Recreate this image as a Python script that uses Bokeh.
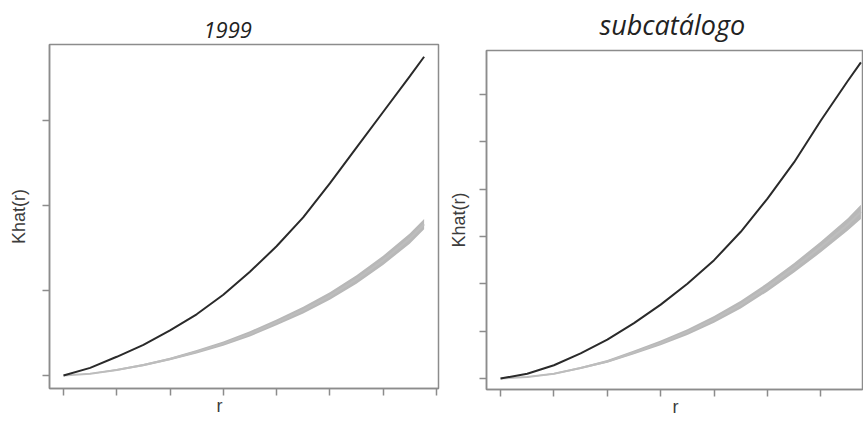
from bokeh.plotting import figure
from bokeh.layouts import row
from bokeh.models import FixedTicker, Range1d, CustomJSTickFormatter, Title
from bokeh.embed import file_html
from bokeh.resources import INLINE

# ---- data ----
titles = ["1999", "subcatálogo"]
x_label = "r"
y_label = "Khat(r)"

r_1999 = [0, 0.5, 1, 1.5, 2, 2.5, 3, 3.5, 4, 4.5, 5, 5.5, 6, 6.5, 6.77]
k_1999 = [0, 0.09, 0.22, 0.36, 0.53, 0.72, 0.95, 1.22, 1.52, 1.86, 2.26, 2.68, 3.1, 3.52, 3.75]
lo_1999 = [0, 0.015, 0.055, 0.11, 0.18, 0.26, 0.35, 0.46, 0.59, 0.73, 0.89, 1.08, 1.3, 1.55, 1.72]
hi_1999 = [0, 0.025, 0.075, 0.135, 0.21, 0.3, 0.4, 0.52, 0.66, 0.81, 0.98, 1.18, 1.41, 1.67, 1.84]

r_sub = [0, 0.5, 1, 1.5, 2, 2.5, 3, 3.5, 4, 4.5, 5, 5.5, 6, 6.5, 6.75]
k_sub = [0, 0.1, 0.28, 0.53, 0.82, 1.17, 1.56, 2.0, 2.5, 3.1, 3.8, 4.57, 5.45, 6.28, 6.68]
lo_sub = [0, 0.02, 0.085, 0.2, 0.33, 0.51, 0.7, 0.92, 1.18, 1.48, 1.84, 2.24, 2.665, 3.12, 3.37]
hi_sub = [0, 0.04, 0.115, 0.24, 0.39, 0.59, 0.8, 1.04, 1.32, 1.64, 2.02, 2.44, 2.895, 3.38, 3.67]

x_ticks = [0, 1, 2, 3, 4, 5, 6, 7]
y_ticks_1999 = [0, 1, 2, 3]
y_ticks_sub = [0, 1, 2, 3, 4, 5, 6]

FRAME = "#8c8c8c"
TEXT = "#3c3c3c"


def panel(title, r, k, lo, hi, yticks, width, xr, yr, borders,
          title_offset, title_size, title_standoff, ylab_standoff, xlab_offset):
    p = figure(width=width, height=426, output_backend="svg", toolbar_location=None,
               x_range=Range1d(*xr), y_range=Range1d(*yr),
               min_border_left=borders[0], min_border_right=borders[1],
               min_border_top=borders[2], min_border_bottom=borders[3])
    p.frame_align = False
    p.title.text = title
    p.title.align = "left"
    p.title.vertical_align = "top"
    p.title.offset = title_offset
    p.title.standoff = title_standoff
    p.title.text_font = "Open Sans"
    p.title.text_font_style = "italic"
    p.title.text_font_size = title_size
    p.title.text_color = "#222222"
    p.grid.visible = False
    p.outline_line_color = FRAME
    p.outline_line_width = 1.5
    p.background_fill_color = "white"
    p.border_fill_color = "white"

    for ax, ticks in ((p.xaxis[0], x_ticks), (p.yaxis[0], yticks)):
        ax.ticker = FixedTicker(ticks=ticks)
        ax.formatter = CustomJSTickFormatter(code="return ''")
        ax.minor_tick_line_color = None
        ax.major_tick_in = 0
        ax.major_tick_out = 7
        ax.major_tick_line_color = FRAME
        ax.major_tick_line_width = 1.5
        ax.axis_line_color = FRAME
        ax.axis_line_width = 1.5
        ax.major_label_standoff = 0
        ax.axis_label_text_font = "Liberation Sans"
        ax.axis_label_text_font_style = "normal"
        ax.axis_label_text_font_size = "18px"
        ax.axis_label_text_color = TEXT
    p.yaxis[0].axis_label = y_label
    p.yaxis[0].axis_label_standoff = ylab_standoff

    # x label as a bottom title so it can sit off-centre like the reference
    p.add_layout(Title(text=x_label, align="left", vertical_align="top", offset=xlab_offset,
                       standoff=0, text_font="Liberation Sans", text_font_style="normal",
                       text_font_size="18px", text_color=TEXT), "below")

    p.varea(x=r, y1=lo, y2=hi, fill_color="#b8b8b8")
    p.line(x=r, y=[(a + b) / 2 for a, b in zip(lo, hi)], line_color="#bdbdbd", line_width=2)
    p.line(x=r, y=k, line_color="#2a2a2a", line_width=2)
    return p


p1 = panel(titles[0], r_1999, k_1999, lo_1999, hi_1999, y_ticks_1999, 445,
           (-0.263, 7.04), (-0.153, 3.894), (49, 7, 44, 38), 154, "22px", 9, 14, 167)
p2 = panel(titles[1], r_sub, k_sub, lo_sub, hi_sub, y_ticks_sub, 418,
           (-0.263, 6.78), (-0.233, 6.93), (41, 1, 50, 37), 113, "27px", 11, 11, 186)

layout = row(p1, p2, spacing=0)
open("out.html", "w").write(file_html(layout, INLINE))
